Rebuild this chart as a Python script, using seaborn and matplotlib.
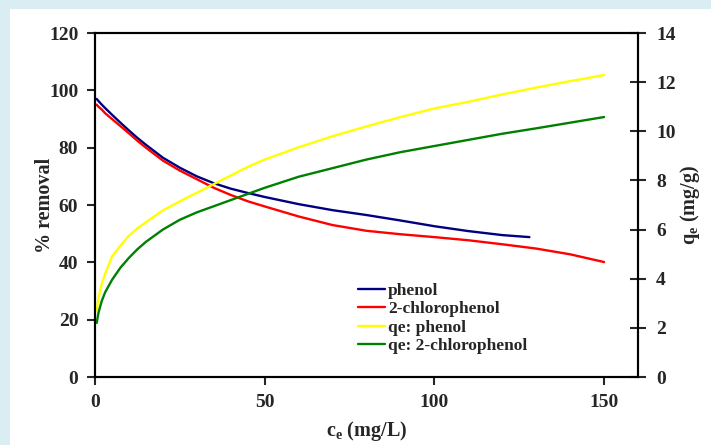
import seaborn as sns
import matplotlib.pyplot as plt
import matplotlib.patches as mpatches
import pandas as pd

# dados
ce_phenol = [0.5, 1, 2, 3, 5, 7.5, 10, 12.5, 15, 20, 25, 30, 35, 40, 45, 50,
             60, 70, 80, 90, 100, 110, 120, 128]
rem_phenol = [97, 96.3, 95, 93.8, 91.5, 88.7, 86, 83.4, 81, 76.5, 73, 70, 67.6, 65.7, 64.2, 62.8,
              60.3, 58.2, 56.5, 54.6, 52.6, 50.9, 49.5, 48.8]

ce_full = [0.5, 1, 2, 3, 5, 7.5, 10, 12.5, 15, 20, 25, 30, 35, 40, 45, 50,
           60, 70, 80, 90, 100, 110, 120, 130, 140, 150]
rem_chloro = [95, 94.3, 93.3, 92, 90, 87.5, 85, 82.4, 80, 75.5, 72, 69, 66, 63.5, 61.3, 59.5,
              56, 53, 51, 49.8, 48.8, 47.7, 46.3, 44.8, 42.8, 40.1]
qe_phenol = [2.7, 3.2, 3.8, 4.2, 4.9, 5.35, 5.75, 6.05, 6.3, 6.78, 7.15, 7.5, 7.85, 8.2, 8.55, 8.85,
             9.35, 9.8, 10.2, 10.58, 10.93, 11.2, 11.5, 11.78, 12.04, 12.29]
qe_chloro = [2.2, 2.6, 3.1, 3.45, 3.95, 4.45, 4.85, 5.2, 5.5, 6.0, 6.4, 6.7, 6.95, 7.2, 7.45, 7.7,
             8.15, 8.5, 8.85, 9.15, 9.4, 9.65, 9.9, 10.12, 10.35, 10.58]

sns.set_style("white")
plt.rcParams['font.family'] = ['Liberation Serif', 'DejaVu Serif']
plt.rcParams['font.weight'] = 'bold'
plt.rcParams['axes.labelweight'] = 'bold'
plt.rcParams['mathtext.fontset'] = 'custom'
plt.rcParams['mathtext.rm'] = 'Liberation Serif:bold'
plt.rcParams['mathtext.bf'] = 'Liberation Serif:bold'

fig = plt.figure(figsize=(7.11, 4.45), dpi=100, facecolor='#d9edf3')
fig.patches.append(mpatches.Rectangle((10 / 711, 0), 701 / 711, 436 / 445,
                                      transform=fig.transFigure, facecolor='white',
                                      edgecolor='none', zorder=-5))
ax = fig.add_axes([95 / 711, 68 / 445, 543 / 711, 344 / 445])
ax.set_facecolor('white')
ax2 = ax.twinx()

df1 = pd.DataFrame({'ce': ce_phenol, 'rem': rem_phenol})
df2 = pd.DataFrame({'ce': ce_full, 'rem': rem_chloro, 'qp': qe_phenol, 'qc': qe_chloro})

sns.lineplot(data=df1, x='ce', y='rem', ax=ax, color='#000080', lw=1.7, label='phenol')
sns.lineplot(data=df2, x='ce', y='rem', ax=ax, color='#ff0000', lw=1.7, label='2-chlorophenol')
sns.lineplot(data=df2, x='ce', y='qp', ax=ax2, color='#ffff00', lw=1.7, label='qe: phenol')
sns.lineplot(data=df2, x='ce', y='qc', ax=ax2, color='#008000', lw=1.7, label='qe: 2-chlorophenol')

ax.set_xlim(0, 160)
ax.set_ylim(0, 120)
ax2.set_ylim(0, 14)
ax.set_xticks([0, 50, 100, 150])
ax.set_yticks(range(0, 121, 20))
ax2.set_yticks(range(0, 15, 2))

ax.set_xlabel(r'c$_\mathbf{e}$ (mg/L)', fontsize=14.5, labelpad=6)
ax.set_ylabel('% removal', fontsize=14.5)
ax2.set_ylabel(r'q$_\mathbf{e}$ (mg/g)', fontsize=14.5)
ax.yaxis.set_label_coords(-0.073, 0.5)
ax2.yaxis.set_label_coords(1.074, 0.5)

ax.tick_params(axis='both', direction='out', length=6, width=1.5, labelsize=14, pad=6,
               left=True, bottom=True)
ax2.tick_params(axis='y', direction='inout', length=12, width=1.5, labelsize=14, pad=7, right=True)
for a in (ax, ax2):
    for s in a.spines.values():
        s.set_color('black')
        s.set_linewidth(1.5)

# legenda combinada
h1, l1 = ax.get_legend_handles_labels()
h2, l2 = ax2.get_legend_handles_labels()
ax.get_legend().remove()
ax2.get_legend().remove()
leg = ax2.legend(h1 + h2, l1 + l2, loc='upper left', bbox_to_anchor=(0.484, 0.273),
                 frameon=False, fontsize=12.5, handlelength=1.55, handletextpad=0.2,
                 labelspacing=0.12, borderaxespad=0, borderpad=0)

fig.savefig('out.png', dpi=100, facecolor=fig.get_facecolor())
